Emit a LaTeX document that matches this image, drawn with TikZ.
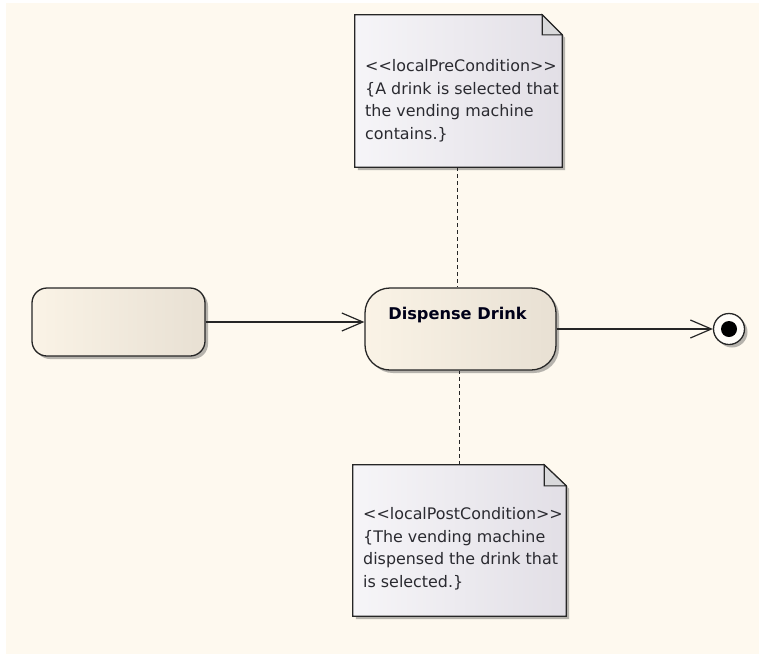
\documentclass[tikz,border=0pt]{standalone}
\usepackage{fontspec}
\setmainfont{DejaVu Sans}
\usetikzlibrary{arrows.meta,calc,shadows}
\definecolor{bgcream}{HTML}{FEF9EF}
\definecolor{stateL}{HTML}{FAF3E6}
\definecolor{stateR}{HTML}{E8E0D3}
\definecolor{noteL}{HTML}{F6F5F8}
\definecolor{noteR}{HTML}{E2DFE6}
\definecolor{foldgray}{HTML}{D9D9DB}
\definecolor{edge}{HTML}{262626}
\definecolor{txt}{HTML}{2A2A30}
\begin{document}
\begin{tikzpicture}[x=1pt,y=-1pt,
  shad/.style={drop shadow={shadow xshift=3pt,shadow yshift=-3pt,opacity=.4,fill=black!70}},
  statebox/.style={draw=edge,line width=1.3pt,left color=stateL,right color=stateR,inner sep=0pt,shad},
  noteframe/.style={draw=none,inner sep=0pt},
  notepath/.style={draw=edge,line width=1.3pt,left color=noteL,right color=noteR,shad},
  notetext/.style={inner sep=0pt,anchor=north west,align=left,text=txt,font=\fontsize{15.9}{22.8}\selectfont},
  flow/.style={draw=edge,line width=1.2pt,-{Straight Barb[length=21pt,width=18pt,line width=1.2pt]}},
  anchorline/.style={draw=edge,line width=1pt,dash pattern=on 4pt off 3pt}]
\useasboundingbox (0,0) rectangle (759,654);
\fill[bgcream] (6,3) rectangle (759,654);

% states
\node[statebox,rounded corners=15pt,minimum width=173pt,minimum height=68pt] (left) at (118.5,322) {};
\node[statebox,rounded corners=25pt,minimum width=191pt,minimum height=82pt,
  label={[anchor=north,inner sep=0pt,yshift=-20pt,xshift=-3pt,text=black!90!blue,font=\fontsize{16.2}{19}\selectfont\bfseries]north:Dispense Drink}] (disp) at (460.5,329) {};
\node[circle,draw=edge,line width=1.3pt,fill=white!60!bgcream,minimum size=31pt,inner sep=0pt,shad] (final) at (729,329) {};
\node[circle,fill=black,minimum size=16pt,inner sep=0pt] (fdot) at (final) {};

% notes
\node[noteframe,minimum width=207pt,minimum height=152pt] (pre) at (458.5,91) {};
\path[notepath] (pre.north west) -- ($(pre.north east)+(-20,0)$) -- ($(pre.north east)+(0,20)$) -- (pre.south east) -- (pre.south west) -- cycle;
\filldraw[fill=foldgray,draw=edge,line width=1.1pt] ($(pre.north east)+(-20,0)$) -- ($(pre.north east)+(-20,20)$) -- ($(pre.north east)+(0,20)$) -- cycle;
\node[notetext] (pretext) at (365,59) {<\kern0pt<localPreCondition>\kern0pt>\\\{A drink is selected that\\the vending machine\\contains.\}};

\node[noteframe,minimum width=213pt,minimum height=151pt] (post) at (459.5,540.5) {};
\path[notepath] (post.north west) -- ($(post.north east)+(-22,0)$) -- ($(post.north east)+(0,21)$) -- (post.south east) -- (post.south west) -- cycle;
\filldraw[fill=foldgray,draw=edge,line width=1.1pt] ($(post.north east)+(-22,0)$) -- ($(post.north east)+(-22,21)$) -- ($(post.north east)+(0,21)$) -- cycle;
\node[notetext] (posttext) at (363,507) {<\kern0pt<localPostCondition>\kern0pt>\\\{The vending machine\\dispensed the drink that\\is selected.\}};

% connectors
\draw[anchorline] ([xshift=-1.5pt]pre.south) -- ([xshift=-1.5pt]pre.south |- disp.north);
\draw[anchorline] ([xshift=-0.5pt]post.north) -- ([xshift=-0.5pt]post.north |- disp.south);
\draw[flow] (left.east) -- (left.east -| disp.west);
\draw[flow] (disp.east) -- (final.west);
\end{tikzpicture}
\end{document}
